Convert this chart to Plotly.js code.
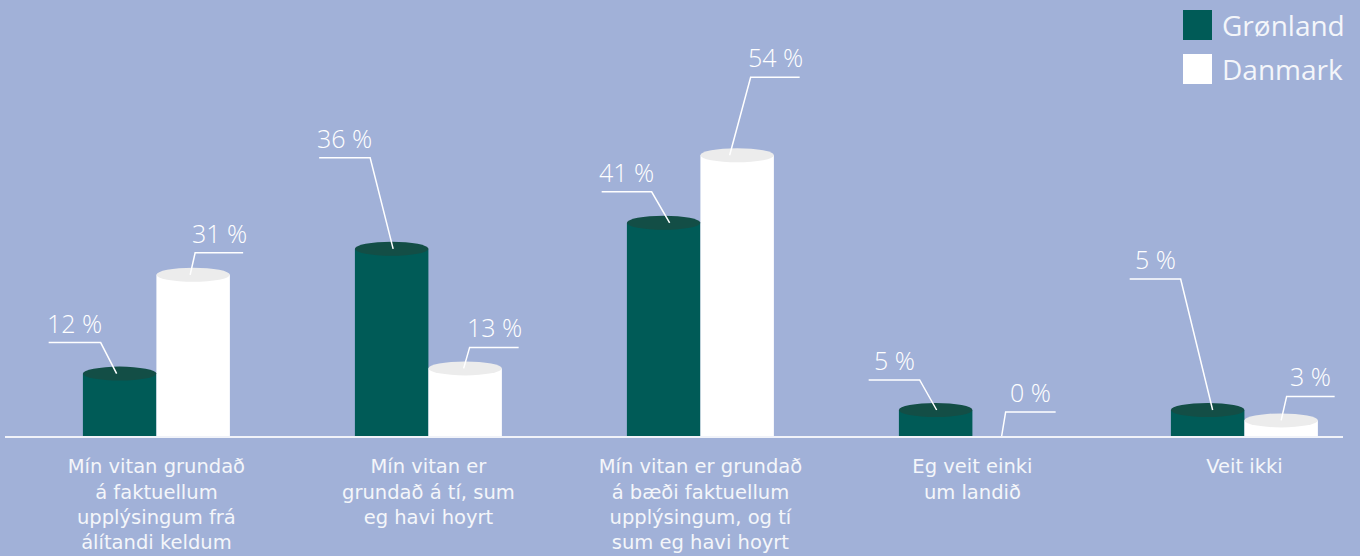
<!DOCTYPE html>
<html><head><meta charset="utf-8">
<script src="https://cdn.plot.ly/plotly-3.0.1.min.js"></script>
<style>html,body{margin:0;padding:0;background:#A1B1D8;} #chart{width:1360px;height:556px;}</style>
</head><body><div id="chart"></div>
<script>
// ---- data ----
const categories = [
  "Mín vitan grundað<br>á faktuellum<br>upplýsingum frá<br>álítandi keldum",
  "Mín vitan er<br>grundað á tí, sum<br>eg havi hoyrt",
  "Mín vitan er grundað<br>á bæði faktuellum<br>upplýsingum, og tí<br>sum eg havi hoyrt",
  "Eg veit einki<br>um landið",
  "Veit ikki"
];
const seriesNames = ["Grønland", "Danmark"];
const gronland = [12, 36, 41, 5, 5];
const danmark = [31, 13, 54, 0, 3];

// ---- styling ----
const FONT = "'Open Sans', sans-serif";
const TICKFONT = "'DejaVu Sans', sans-serif";
const bodyColors = ["#005B57", "#FFFFFF"];
const topColors = ["#134E46", "#ECECEC"];
const textColor = "#F4F6FA";
const bargap = 0.4596;
const barW = (1 - bargap) / 2;
// leader-line placement per label: [start dx, elbow dx, elbow rise, line length] in px
const leaders = [
  [[-3, -19, 31, 52], [1.5, -21.5, 91, 51], [6, -12, 31, 50], [1, -16, 30, 51], [5, -27, 131, 51]],
  [[-3, 2, 22, 48], [-1.5, 4.5, 21, 49], [-7.5, 13.5, 78, 49], [-7.5, -3.5, 24, 50], [0, 5.5, 24, 48]]
];

const series = [gronland, danmark];
const traces = series.map((vals, s) => ({
  type: "bar",
  name: seriesNames[s],
  x: categories,
  y: vals,
  marker: {color: bodyColors[s], line: {width: 0}},
  hoverinfo: "none"
}));

const shapes = [];
const annotations = [];
series.forEach((vals, s) => {
  const dir = s === 0 ? -1 : 1;
  vals.forEach((v, i) => {
    const cx = i + dir * barW / 2;
    if (v > 0) {
      shapes.push({
        type: "circle", xref: "x", yref: "y",
        x0: cx - barW / 2, x1: cx + barW / 2,
        ysizemode: "pixel", yanchor: v, y0: -7, y1: 7,
        fillcolor: topColors[s], line: {width: 0}, layer: "above"
      });
    }
    const L = leaders[s][i];
    const endX = L[1] + dir * L[3];
    shapes.push({
      type: "path", xref: "x", yref: "y",
      xsizemode: "pixel", ysizemode: "pixel", xanchor: cx, yanchor: v,
      path: `M${L[0]},0 L${L[1]},${L[2]} L${endX},${L[2]}`,
      line: {color: "#FFFFFF", width: 1.5}, layer: "above"
    });
    annotations.push({
      xref: "x", yref: "y", x: cx, y: v,
      xshift: (L[1] + endX) / 2, yshift: L[2] + 1,
      xanchor: "center", yanchor: "bottom", showarrow: false,
      text: v + " %",
      font: {family: FONT, size: 25, color: "#FFFFFF", weight: 300}
    });
  });
});

// custom legend
seriesNames.forEach((nm, s) => {
  const top = s === 0 ? 10 : 54;
  shapes.push({
    type: "rect", xref: "paper", yref: "paper",
    xsizemode: "pixel", ysizemode: "pixel", xanchor: 1, yanchor: 1,
    x0: -160, x1: -131, y0: -top, y1: -(top + 30),
    fillcolor: bodyColors[s], line: {width: 0}
  });
  annotations.push({
    xref: "paper", yref: "paper", x: 1, y: 1,
    xshift: -123, yshift: -(top + 15),
    xanchor: "left", yanchor: "middle", showarrow: false,
    text: nm, font: {family: FONT, size: 28, color: textColor}
  });
});

const layout = {
  width: 1360, height: 556,
  margin: {l: 5, r: 17, t: 0, b: 120, pad: 0},
  paper_bgcolor: "#A1B1D8", plot_bgcolor: "#A1B1D8",
  barmode: "group", bargap: bargap, bargroupgap: 0,
  showlegend: false,
  xaxis: {
    type: "category", range: [-0.5566, 4.3625],
    showline: true, linecolor: "rgba(255,255,255,0.85)", linewidth: 2,
    showgrid: false, zeroline: false, ticks: "",
    ticklabelstandoff: 12,
    tickfont: {family: TICKFONT, size: 19.5, color: textColor}
  },
  yaxis: {range: [0, 83.85], visible: false, showgrid: false, zeroline: false},
  shapes: shapes,
  annotations: annotations
};

Plotly.newPlot("chart", traces, layout, {staticPlot: true, displayModeBar: false});
</script>
</body></html>
